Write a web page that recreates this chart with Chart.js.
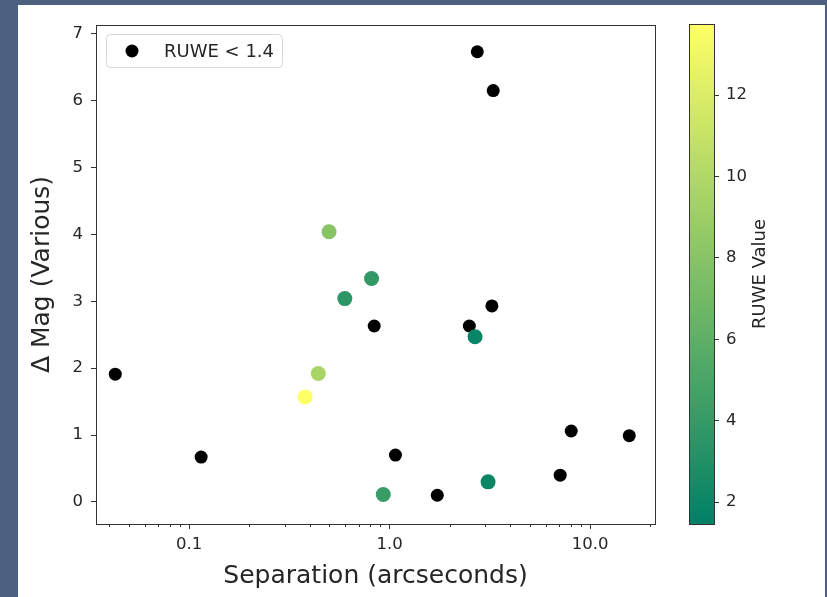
<!DOCTYPE html>
<html>
<head>
<meta charset="utf-8">
<script src="https://cdn.jsdelivr.net/npm/chart.js@4"></script>
<style>
	body { margin: 0; background: #4e6080; width: 827px; height: 597px; overflow: hidden; }
	#figure { position: absolute; left: 18px; top: 5px; width: 807px; height: 592px; background: #fff; }
	#main { position: absolute; left: 0; top: 0; }
	#cbar { position: absolute; left: 662px; top: 2px; }
</style>
</head>
<body>
<div id="figure">
	<canvas id="main" width="650" height="592"></canvas>
	<canvas id="cbar" width="145" height="534"></canvas>
</div>
<script>
// RUWE < 1.4 (black points)
const lowSep = [0.0428, 0.1148, 2.74, 3.29, 0.838, 2.50, 3.24, 1.07, 1.73, 7.10, 8.06, 15.7]
const lowMag = [1.91, 0.67, 6.73, 6.15, 2.63, 2.63, 2.93, 0.70, 0.10, 0.40, 1.06, 0.99]

// higher RUWE (coloured points)
const highSep = [0.499, 0.813, 0.598, 2.67, 0.441, 0.379, 0.930, 3.10]
const highMag = [4.04, 3.34, 3.04, 2.47, 1.92, 1.57, 0.11, 0.30]
const highRuwe = [8.0, 3.8, 3.6, 1.9, 9.6, 13.75, 4.2, 2.1]

const xTickValues = [0.1, 1, 10]
const xTickLabels = ['0.1', '1.0', '10.0']
const yTickValues = [0, 1, 2, 3, 4, 5, 6, 7]
const cbTickValues = [2, 4, 6, 8, 10, 12]

const cbMin = 1.46
const cbMax = 13.75
const FONT = "'DejaVu Sans', sans-serif"
const INK = '#262626'

// matplotlib "summer": (t, 0.5 + t/2, 0.4)
function summer(v) {
	const t = Math.min(1, Math.max(0, (v - cbMin) / (cbMax - cbMin)))
	const r = Math.round(255 * t)
	const g = Math.round(255 * (0.5 + t / 2))
	return `rgb(${r}, ${g}, 102)`
}

const minorTicks = []
for (let d = -2; d <= 1; d++) {
	for (let m = 2; m <= 9; m++) minorTicks.push(m * Math.pow(10, d))
}

const frame = {
	id: 'frame',
	afterDraw(chart) {
		const { ctx, chartArea: a } = chart
		const x = chart.scales.x
		ctx.save()
		ctx.strokeStyle = '#333'
		ctx.lineWidth = 1
		ctx.strokeRect(Math.round(a.left) + 0.5, Math.round(a.top) + 0.5, Math.round(a.right - a.left), Math.round(a.bottom - a.top))
		// minor ticks on the log axis
		ctx.beginPath()
		minorTicks.forEach((v) => {
			if (v < x.min || v > x.max) return
			const px = Math.round(x.getPixelForValue(v)) + 0.5
			ctx.moveTo(px, a.bottom)
			ctx.lineTo(px, a.bottom + 3)
		})
		ctx.stroke()

		// legend
		const lx = a.left + 10
		const ly = a.top + 9
		ctx.beginPath()
		ctx.roundRect(lx + 0.5, ly + 0.5, 176, 33, 4)
		ctx.fillStyle = 'rgba(255,255,255,0.8)'
		ctx.fill()
		ctx.strokeStyle = '#d6d6d6'
		ctx.stroke()
		const ds = chart.data.datasets[1]
		ctx.beginPath()
		ctx.arc(a.left + 36, a.top + 26, ds.pointRadius, 0, Math.PI * 2)
		ctx.fillStyle = ds.backgroundColor
		ctx.fill()
		ctx.fillStyle = INK
		ctx.font = `18px ${FONT}`
		ctx.textBaseline = 'middle'
		ctx.fillText(ds.label, a.left + 68, a.top + 27)
		ctx.restore()
	},
}

new Chart(document.getElementById('main'), {
	type: 'scatter',
	data: {
		datasets: [
			{
				label: 'RUWE',
				data: highSep.map((s, i) => ({ x: s, y: highMag[i] })),
				backgroundColor: highRuwe.map(summer),
				borderWidth: 0,
				pointRadius: 7.5,
				order: 0,
			},
			{
				label: 'RUWE < 1.4',
				data: lowSep.map((s, i) => ({ x: s, y: lowMag[i] })),
				backgroundColor: '#000',
				borderWidth: 0,
				pointRadius: 6.5,
				order: 1,
			},
		],
	},
	options: {
		responsive: false,
		animation: false,
		layout: { padding: { top: 20, right: 13, left: 0, bottom: 0 } },
		plugins: { legend: { display: false }, tooltip: { enabled: false } },
		scales: {
			x: {
				type: 'logarithmic',
				min: 0.0343,
				max: 21.1,
				afterBuildTicks: (scale) => {
					scale.ticks = xTickValues.map((v) => ({ value: v }))
				},
				afterFit: (scale) => {
					scale.height = 73
				},
				ticks: {
					autoSkip: false,
					maxRotation: 0,
					padding: 6,
					color: INK,
					font: { family: FONT, size: 16.5 },
					callback: (v) => xTickLabels[xTickValues.indexOf(v)],
				},
				grid: { display: true, drawOnChartArea: false, tickLength: 5, tickColor: '#333' },
				border: { display: false },
				title: {
					display: true,
					text: 'Separation (arcseconds)',
					color: INK,
					font: { family: FONT, size: 25 },
					padding: { top: 0, bottom: 6 },
				},
			},
			y: {
				min: -0.33,
				max: 7.13,
				afterBuildTicks: (scale) => {
					scale.ticks = yTickValues.map((v) => ({ value: v }))
				},
				afterFit: (scale) => {
					scale.width = 78
				},
				ticks: {
					padding: 8,
					color: INK,
					font: { family: FONT, size: 16.5 },
				},
				grid: { display: true, drawOnChartArea: false, tickLength: 5, tickColor: '#333' },
				border: { display: false },
				title: {
					display: true,
					text: 'Δ Mag (Various)',
					color: INK,
					font: { family: FONT, size: 25 },
					padding: { top: 9, bottom: 0 },
				},
			},
		},
	},
	plugins: [frame],
})

const colorbar = {
	id: 'colorbar',
	beforeDatasetsDraw(chart) {
		const { ctx, chartArea: a } = chart
		const y = chart.scales.y
		const grad = ctx.createLinearGradient(0, y.getPixelForValue(cbMin), 0, y.getPixelForValue(cbMax))
		grad.addColorStop(0, summer(cbMin))
		grad.addColorStop(1, summer(cbMax))
		ctx.save()
		ctx.fillStyle = grad
		ctx.fillRect(a.left, a.top, a.right - a.left, a.bottom - a.top)
		ctx.strokeStyle = '#333'
		ctx.lineWidth = 1
		ctx.strokeRect(Math.round(a.left) + 0.5, Math.round(a.top) + 0.5, Math.round(a.right - a.left), Math.round(a.bottom - a.top))
		ctx.translate(a.right + 46, (a.top + a.bottom) / 2)
		ctx.rotate(-Math.PI / 2)
		ctx.fillStyle = INK
		ctx.font = `18px ${FONT}`
		ctx.textAlign = 'center'
		ctx.textBaseline = 'middle'
		ctx.fillText('RUWE Value', 0, 0)
		ctx.restore()
	},
}

new Chart(document.getElementById('cbar'), {
	type: 'scatter',
	data: { datasets: [{ data: [] }] },
	options: {
		responsive: false,
		animation: false,
		layout: { padding: { top: 0, bottom: 0, left: 9, right: 0 } },
		plugins: { legend: { display: false }, tooltip: { enabled: false } },
		scales: {
			x: { display: false, min: 0, max: 1 },
			y: {
				position: 'right',
				min: cbMin,
				max: cbMax,
				afterBuildTicks: (scale) => {
					scale.ticks = cbTickValues.map((v) => ({ value: v }))
				},
				afterFit: (scale) => {
					scale.width = 111
				},
				ticks: {
					padding: 7,
					color: INK,
					font: { family: FONT, size: 16.5 },
				},
				grid: { display: true, drawOnChartArea: false, tickLength: 5, tickColor: '#333' },
				border: { display: false },
			},
		},
	},
	plugins: [colorbar],
})
</script>
</body>
</html>
